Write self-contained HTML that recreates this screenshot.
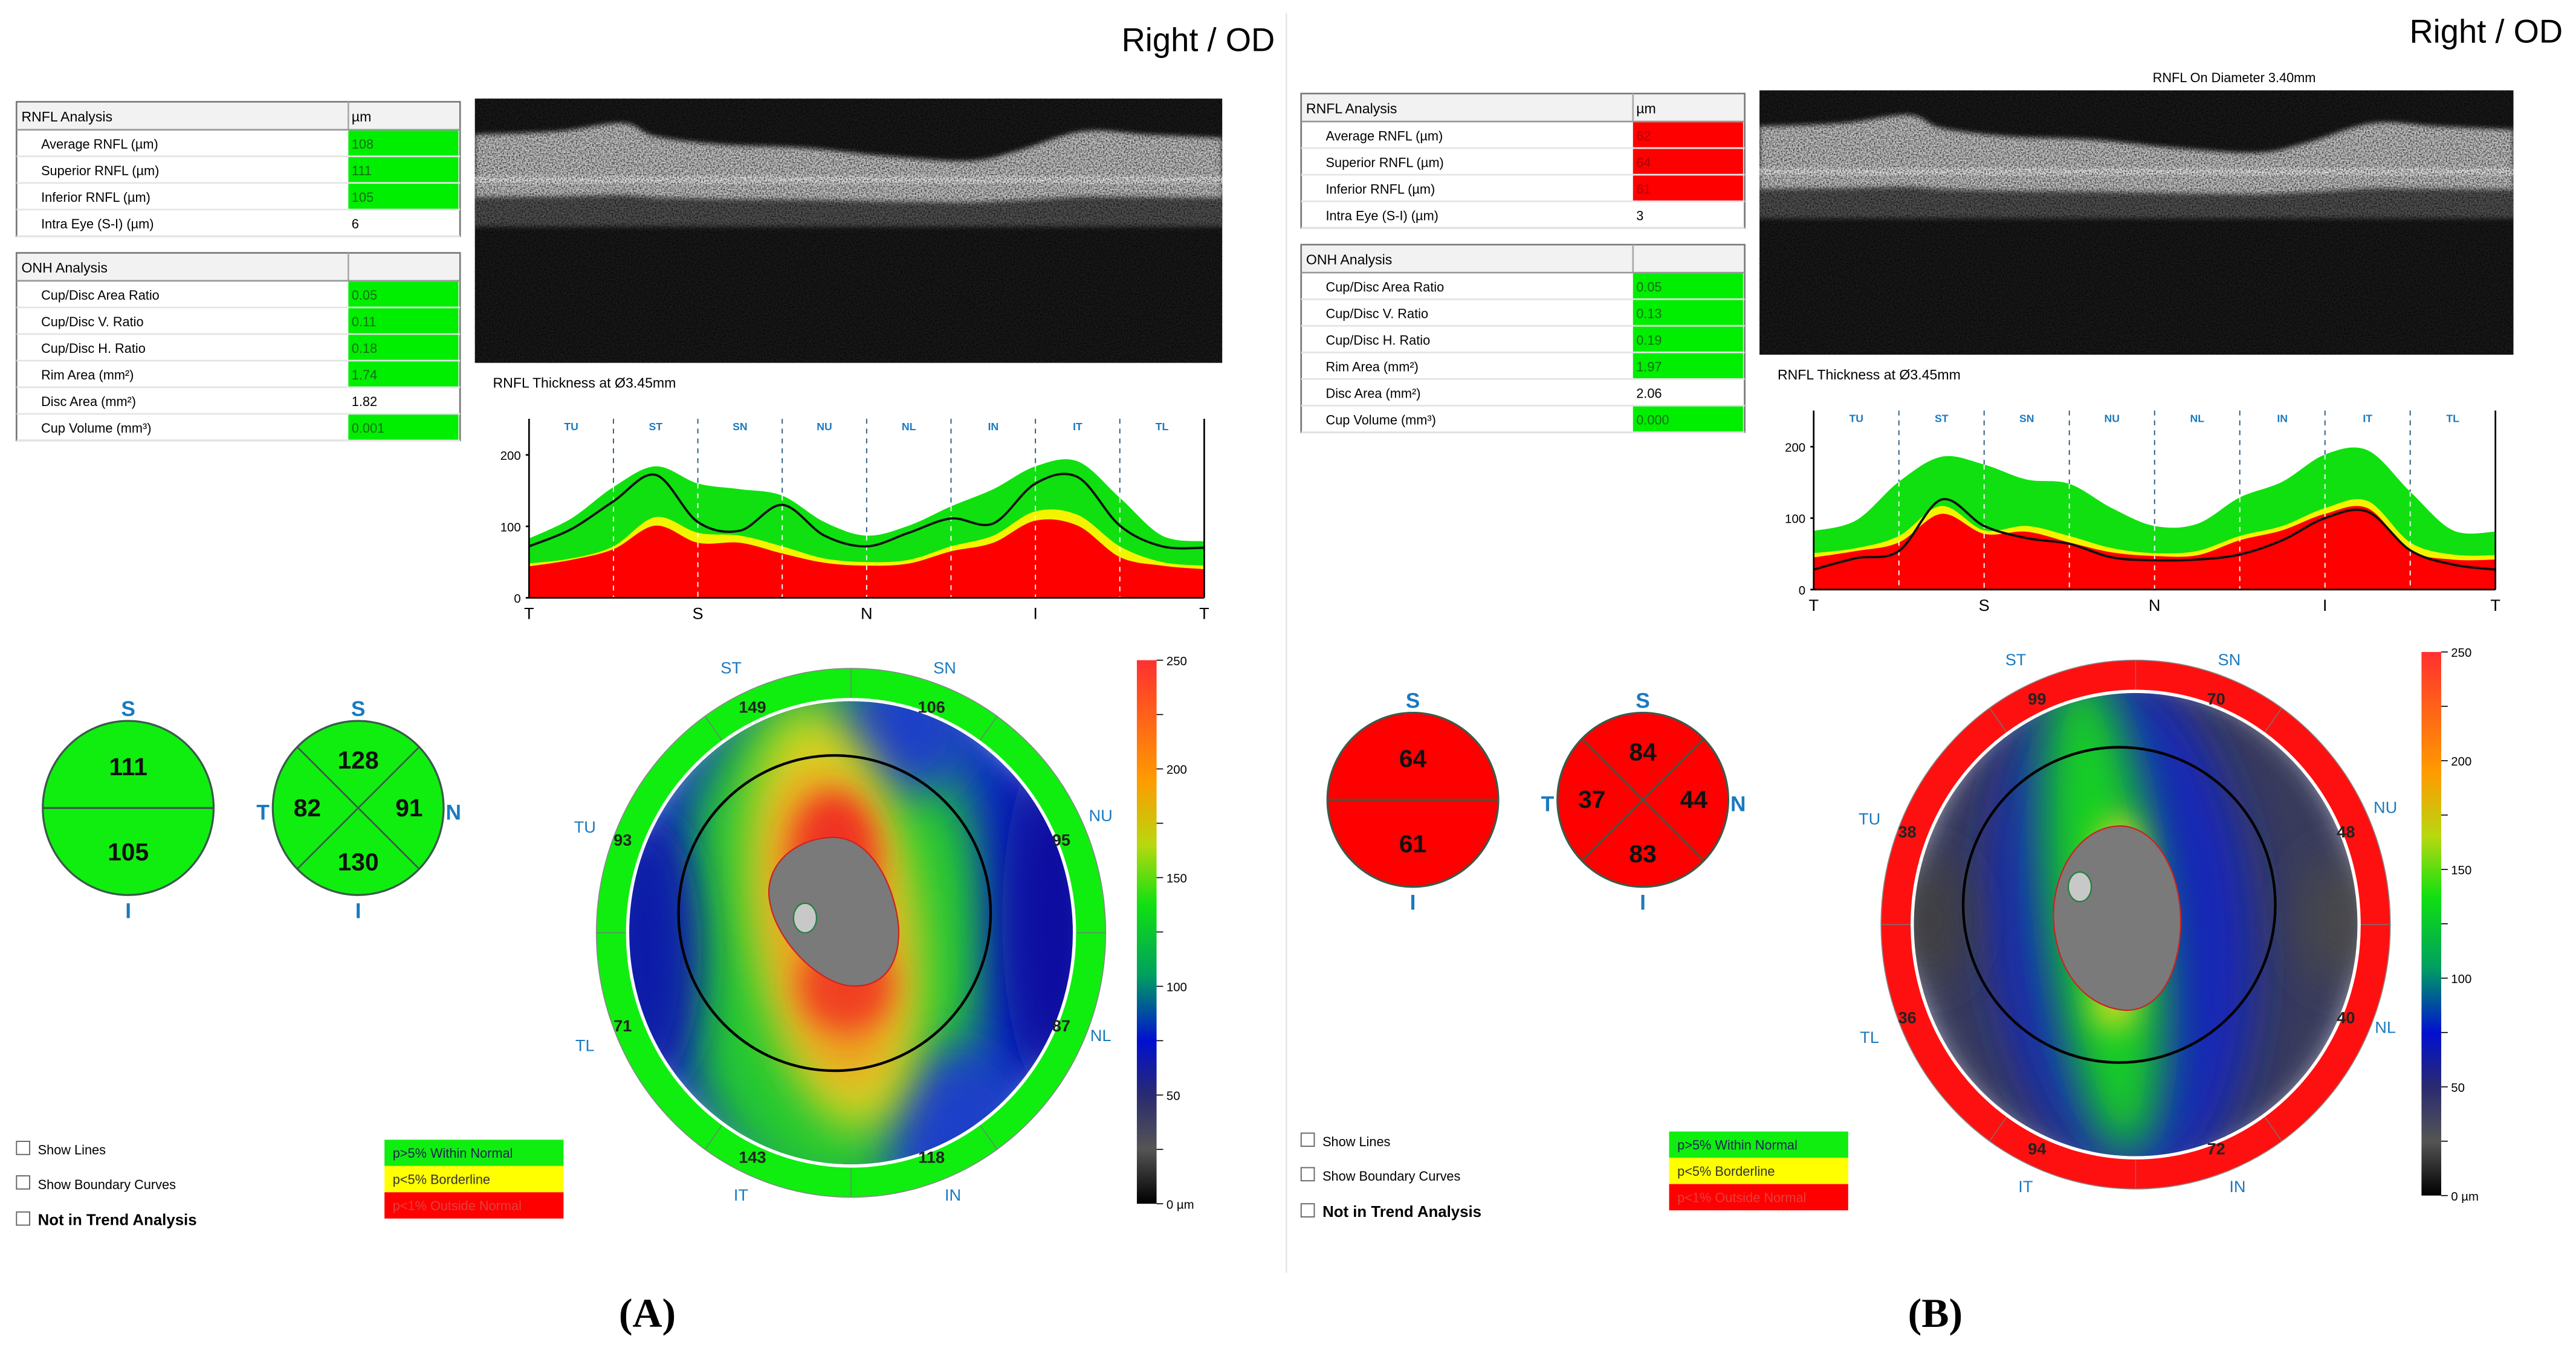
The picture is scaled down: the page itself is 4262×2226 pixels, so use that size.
<!DOCTYPE html>
<html><head><meta charset="utf-8"><style>
html,body{margin:0;padding:0;background:#fff}
svg{display:block}
text{font-family:"Liberation Sans",sans-serif}
</style></head><body>
<svg id="root" width="4262" height="2226" viewBox="0 0 1568 819" xmlns="http://www.w3.org/2000/svg">
<defs>
<filter id="noise" x="0" y="0" width="1" height="1">
<feTurbulence type="fractalNoise" baseFrequency="1.1" numOctaves="2" seed="3" result="t"/>
<feColorMatrix in="t" type="matrix" values="0 0 0 0 0  0 0 0 0 0  0 0 0 0 0  0 0 0 -1.6 1.0" result="n"/>
<feComposite in="n" in2="SourceGraphic" operator="in"/>
</filter>
<filter id="blur8" x="-100%" y="-100%" width="300%" height="300%"><feGaussianBlur stdDeviation="9"/></filter>
<filter id="blur14" x="-100%" y="-100%" width="300%" height="300%"><feGaussianBlur stdDeviation="14"/></filter>
<filter id="blur2" x="-20%" y="-50%" width="140%" height="200%"><feGaussianBlur stdDeviation="1.5"/></filter>
<linearGradient id="cbar" x1="0" y1="1" x2="0" y2="0">
<stop offset="0" stop-color="#000"/><stop offset="0.1" stop-color="#555"/><stop offset="0.2" stop-color="#2a2a70"/>
<stop offset="0.3" stop-color="#0010d0"/><stop offset="0.42" stop-color="#00a060"/><stop offset="0.55" stop-color="#10e010"/>
<stop offset="0.66" stop-color="#b8d810"/><stop offset="0.78" stop-color="#ff9a00"/><stop offset="1" stop-color="#ff3030"/>
</linearGradient>
</defs>
<line x1="783" y1="8" x2="783" y2="775" stroke="#e6e6e6" stroke-width="1"/>
<text x="394" y="808" font-size="25" font-weight="bold" text-anchor="middle" style="font-family:'Liberation Serif',serif">(A)</text>
<text x="1178" y="808" font-size="25" font-weight="bold" text-anchor="middle" style="font-family:'Liberation Serif',serif">(B)</text>
<text x="1360" y="50" font-size="8" text-anchor="middle">RNFL On Diameter 3.40mm</text>
</svg>
<script>
// ---- data ----
const sectorLabels = ["TU","ST","SN","NU","NL","IN","IT","TL"];
const bottomLabels = ["T","S","N","I","T"];
const yTicks = [0,100,200];
const rnflRows = ["Average RNFL (µm)","Superior RNFL (µm)","Inferior RNFL (µm)","Intra Eye (S-I) (µm)"];
const onhRows = ["Cup/Disc Area Ratio","Cup/Disc V. Ratio","Cup/Disc H. Ratio","Rim Area (mm²)","Disc Area (mm²)","Cup Volume (mm³)"];
const rnflValsA = ["108","111","105","6"];
const rnflValsB = ["62","64","61","3"];
const onhValsA = ["0.05","0.11","0.18","1.74","1.82","0.001"];
const onhValsB = ["0.05","0.13","0.19","1.97","2.06","0.000"];
const greenA = [83,111,155,184,160,152,143,106,87,101,128,152,184,191,140,87,79];
const yellowA = [48,55,72,113,91,87,72,55,50,53,72,87,121,116,72,50,45];
const redA = [44,53,68,101,77,77,62,49,45,48,65,77,108,101,57,45,40];
const lineA = [72,96,135,172,106,94,130,87,72,91,111,104,160,169,101,72,70];
const greenB = [82,97,151,186,175,154,148,114,89,92,129,151,189,195,137,83,81];
const yellowB = [51,58,75,117,83,89,75,58,51,54,75,89,114,124,66,49,48];
const redB = [45,54,66,106,78,81,66,52,47,48,69,83,106,114,55,42,42];
const lineB = [28,44,54,126,89,72,64,45,41,42,49,69,100,109,55,35,28];
const halvesA = ["111","105"], halvesB = ["64","61"];
const quadsA = ["128","91","130","82"], quadsB = ["84","44","83","37"]; // S,N,I,T
const clockA = ["149","106","95","87","118","143","71","93"]; // ST,SN,NU,NL,IN,IT,TL,TU
const clockB = ["99","70","48","40","72","94","36","38"];
const cbarTicks = [0,50,100,150,200,250];

const NS="http://www.w3.org/2000/svg";
const root=document.getElementById('root');
function el(tag,attrs,parent,txt){const e=document.createElementNS(NS,tag);for(const k in attrs)e.setAttribute(k,attrs[k]);if(txt!==undefined)e.textContent=txt;(parent||root).appendChild(e);return e;}

function smoothPath(pts){let d="M"+pts[0][0]+","+pts[0][1];for(let i=0;i<pts.length-1;i++){const p0=pts[i-1]||pts[i],p1=pts[i],p2=pts[i+1],p3=pts[i+2]||p2;
const c1=[p1[0]+(p2[0]-p0[0])/6,p1[1]+(p2[1]-p0[1])/6],c2=[p2[0]-(p3[0]-p1[0])/6,p2[1]-(p3[1]-p1[1])/6];
d+=" C"+c1[0]+","+c1[1]+" "+c2[0]+","+c2[1]+" "+p2[0]+","+p2[1];}return d;}

function panel(dx,dy,P){
  const g=el('g',{transform:`translate(${dx},${dy})`});
  
  
  const t=el('text',{x:P.odX,y:31,'font-size':20,'text-anchor':'end'},g,'Right / OD');
  
  
  function table(y0,title,unit,rows,vals,cls,name){
    const tg=el('g',{},g);
    
    
    const h=16.2, n=rows.length;
    el('rect',{x:10,y:y0,width:270,height:17+n*h,fill:'#fff',stroke:'#777','stroke-width':1},tg);
    el('rect',{x:10.5,y:y0+0.5,width:269,height:16.5,fill:'#f2f2f2'},tg);
    el('line',{x1:212,y1:y0,x2:212,y2:y0+17,stroke:'#aaa'},tg);
    el('line',{x1:10,y1:y0+17,x2:280,y2:y0+17,stroke:'#999'},tg);
    el('text',{x:13,y:y0+12,'font-size':8.5},tg,title);
    el('text',{x:214,y:y0+12,'font-size':8.5},tg,unit);
    rows.forEach((r,i)=>{const yy=y0+17+i*h;
      const c=cls[i];
      if(c)el('rect',{x:212,y:yy+0.5,width:67,height:h-1,fill:c},tg);
      el('line',{x1:10,y1:yy+h,x2:280,y2:yy+h,stroke:'#e4e4e4'},tg);
      el('text',{x:25,y:yy+11.5,'font-size':8},tg,r);
      el('text',{x:214,y:yy+11.5,'font-size':8,fill:c&&c!=='#00ee00'?'#a00':(c?'#1a6a1a':'#000')},tg,vals[i]);
    });
  }
  table(62,'RNFL Analysis','µm',rnflRows,P.rnfl,P.rnflCls,'rnfl-table');
  table(154,'ONH Analysis','',onhRows,P.onh,P.onhCls,'onh-table');
  // OCT image
  const og=el('g',{},g);
  
  
  const ox=289,ow=P.octW,oy=60,oh=161;
  const ocp=el('clipPath',{id:'oclip'+P.id},og);el('rect',{x:ox,y:oy,width:ow,height:oh},ocp);
  const oin=el('g',{'clip-path':`url(#oclip${P.id})`},og);
  el('rect',{x:ox,y:oy,width:ow,height:oh,fill:'#181818'},oin);
  const f=ow/455;
  const top=[[0,82],[50,80],[90,75],[110,83],[150,88],[200,90],[250,95],[300,98],[330,92],[370,80],[410,82],[455,84]].map(p=>[ox+p[0]*f,p[1]]);
  let d=smoothPath(top);
  const bot=top.slice().reverse().map(p=>[p[0],120+(p[1]-82)*0.2]);
  d+=" L"+bot.map(p=>p.join(",")).join(" L")+"Z";
  el('rect',{x:ox-10,y:114,width:ow+20,height:24,fill:'#505050',filter:'url(#blur2)'},oin);
  el('path',{d:d,fill:'#c0c0c0',filter:'url(#blur2)'},oin);
  el('rect',{x:ox-10,y:108,width:ow+20,height:3,fill:'#eeeeee',filter:'url(#blur2)'},oin);
  el('rect',{x:ox,y:oy,width:ow,height:oh,fill:'#000',filter:'url(#noise)'},oin);
  const st=el('text',{x:300,y:236,'font-size':8.5},g,'RNFL Thickness at Ø3.45mm');
  
  
  // chart
  const cg=el('g',{},g);
  
  
  const x0=322,x1=x0+P.chartW,yz=364,ytop=255;
  const sx=i=>x0+i*(x1-x0)/16, sy=v=>yz-v*(yz-277)/200;
  for(let k=1;k<8;k++){const xx=x0+k*(x1-x0)/8;el('line',{x1:xx,y1:ytop,x2:xx,y2:yz,stroke:'#2a5a7a','stroke-width':0.7,'stroke-dasharray':'3,3'},cg);}
  function area(arr,col,name){const pts=arr.map((v,i)=>[sx(i),sy(v)]);const p=el('path',{d:smoothPath(pts)+` L${x1},${yz} L${x0},${yz}Z`,fill:col},cg);
    
    }
  area(P.green,'#10e010',P.id+'-normal-band');
  area(P.yellow,'#f4f400',P.id+'-borderline-band');
  area(P.red,'#ff0000',P.id+'-outside-normal-band');
  for(let k=1;k<8;k++){const xx=x0+k*(x1-x0)/8;el('line',{x1:xx,y1:sy(P.green[2*k]),x2:xx,y2:yz,stroke:'#fff','stroke-width':0.7,'stroke-dasharray':'3,3'},cg);}
  const ln=el('path',{d:smoothPath(P.line.map((v,i)=>[sx(i),sy(v)])),fill:'none',stroke:'#111','stroke-width':1.4},cg);
  
  
  el('line',{x1:x0,y1:ytop,x2:x0,y2:yz,stroke:'#000','stroke-width':1},cg);
  el('line',{x1:x1,y1:ytop,x2:x1,y2:yz,stroke:'#000','stroke-width':1},cg);
  el('line',{x1:x0,y1:yz,x2:x1,y2:yz,stroke:'#000','stroke-width':1},cg);
  yTicks.forEach(v=>{el('line',{x1:x0-2,y1:sy(v),x2:x0,y2:sy(v),stroke:'#000'},cg);el('text',{x:x0-5,y:sy(v)+3,'font-size':7.5,'text-anchor':'end'},cg,String(v));});
  sectorLabels.forEach((s,k)=>el('text',{x:x0+(k+0.5)*(x1-x0)/8,y:ytop+7,'font-size':6.5,fill:'#1a7ac0','text-anchor':'middle','font-weight':'bold'},cg,s));
  bottomLabels.forEach((s,k)=>el('text',{x:x0+k*(x1-x0)/4,y:yz+13,'font-size':10,'text-anchor':'middle'},cg,s));
  // circles
  const col=P.circleCol, stroke='#3a5a4a';
  const c1=el('g',{},g);
  
  
  el('ellipse',{cx:78,cy:492,rx:52,ry:53,fill:col,stroke:stroke,'stroke-width':1.2},c1);
  el('line',{x1:26,y1:492,x2:130,y2:492,stroke:stroke,'stroke-width':1.2},c1);
  el('text',{x:78,y:472,'font-size':15,'text-anchor':'middle','font-weight':'bold',fill:'#111'},c1,P.halves[0]);
  el('text',{x:78,y:524,'font-size':15,'text-anchor':'middle','font-weight':'bold',fill:'#111'},c1,P.halves[1]);
  el('text',{x:78,y:436,'font-size':13,'text-anchor':'middle','font-weight':'bold',fill:'#1a7ac0'},c1,'S');
  el('text',{x:78,y:559,'font-size':13,'text-anchor':'middle','font-weight':'bold',fill:'#1a7ac0'},c1,'I');
  const c2=el('g',{},g);
  
  
  const cx=218,cy=492;
  el('ellipse',{cx:cx,cy:cy,rx:52,ry:53,fill:col,stroke:stroke,'stroke-width':1.2},c2);
  el('line',{x1:cx-37,y1:cy-37,x2:cx+37,y2:cy+37,stroke:stroke,'stroke-width':1},c2);
  el('line',{x1:cx+37,y1:cy-37,x2:cx-37,y2:cy+37,stroke:stroke,'stroke-width':1},c2);
  [[0,-26],[31,3],[0,36],[-31,3]].forEach((o,i)=>el('text',{x:cx+o[0],y:cy+o[1]+2,'font-size':15,'text-anchor':'middle','font-weight':'bold',fill:'#111'},c2,P.quads[i]));
  [['S',0,-56],['N',58,7],['I',0,67],['T',-58,7]].forEach(a=>el('text',{x:cx+a[1],y:cy+a[2],'font-size':13,'text-anchor':'middle','font-weight':'bold',fill:'#1a7ac0'},c2,a[0]));
  // map
  const mg=el('g',{},g);
  
  
  const mx=518,my=568;
  el('ellipse',{cx:mx,cy:my,rx:155,ry:161,fill:P.ringCol,stroke:'#888','stroke-width':0.6},mg);
  el('ellipse',{cx:mx,cy:my,rx:137,ry:143,fill:'#fff'},mg);
  const cid='clip'+P.id;
  const cp=el('clipPath',{id:cid},mg);el('ellipse',{cx:mx,cy:my,rx:135,ry:141},cp);
  const inner=el('g',{'clip-path':`url(#${cid})`},mg);
  P.blobs.forEach(b=>el('ellipse',{cx:b[0],cy:b[1],rx:b[2],ry:b[3],fill:b[4],filter:'url(#'+(b[5]||'blur8')+')',transform:`rotate(${b[6]||0} ${b[0]} ${b[1]})`},inner));
  el('ellipse',{cx:mx-10,cy:my-12,rx:95,ry:96,fill:'none',stroke:'#000','stroke-width':1.6},mg);
  el('path',{d:P.disc,fill:'#7a7a7a',stroke:'#d02020','stroke-width':0.8},mg);
  el('ellipse',{cx:P.cup[0],cy:P.cup[1],rx:7,ry:9,fill:'#c8c8c8',stroke:'#208040','stroke-width':0.8},mg);
  [[-90],[90],[0],[180],[-55],[-125],[55],[125]].forEach(a=>{const r=a[0]*Math.PI/180;el('line',{x1:mx+137*Math.cos(r),y1:my+143*Math.sin(r),x2:mx+155*Math.cos(r),y2:my+161*Math.sin(r),stroke:'#777','stroke-width':0.5},mg);});
  const clockPos=[[458,434],[567,434],[646,515],[646,628],[567,708],[458,708],[379,628],[379,515]];
  clockPos.forEach((p,i)=>el('text',{x:p[0],y:p[1],'font-size':10,'text-anchor':'middle','font-weight':'bold',fill:'#222'},mg,P.clock[i]));
  const clockLab=[['ST',445,410],['SN',575,410],['NU',670,500],['NL',670,634],['IN',580,731],['IT',451,731],['TL',356,640],['TU',356,507]];
  clockLab.forEach(a=>el('text',{x:a[1],y:a[2],'font-size':10,'text-anchor':'middle',fill:'#1a7ac0'},mg,a[0]));
  // colorbar
  const cb=el('g',{},g);
  
  
  el('rect',{x:692,y:402,width:12,height:331,fill:'url(#cbar)'},cb);
  const cby=v=>733-v*331/250;
  for(let v=0;v<=250;v+=25)el('line',{x1:704,y1:cby(v),x2:708,y2:cby(v),stroke:'#000','stroke-width':0.6},cb);
  cbarTicks.forEach(v=>el('text',{x:710,y:cby(v)+3,'font-size':7.5},cb,v===0?'0 µm':String(v)));
  // checkboxes
  [['Show Lines',702,8,'normal','show-lines-checkbox'],['Show Boundary Curves',723,8,'normal','show-boundary-curves-checkbox'],['Not in Trend Analysis',745,9.5,'bold','not-in-trend-checkbox']].forEach(c=>{
    const cgp=el('g',{},g);
    
    
    el('rect',{x:10,y:c[1]-7,width:8,height:8,fill:'#fff',stroke:'#666','stroke-width':0.7},cgp);
    el('text',{x:23,y:c[1]+1,'font-size':c[2],'font-weight':c[3]},cgp,c[0]);
  });
  // legend
  const lg=el('g',{},g);
  
  
  [['#10ee10','p>5% Within Normal','#225'],['#ffff00','p<5% Borderline','#333'],['#ff0000','p<1% Outside Normal','#e04040']].forEach((r,i)=>{
    el('rect',{x:234,y:694+i*16,width:109,height:16,fill:r[0]},lg);
    el('text',{x:239,y:705+i*16,'font-size':8,fill:r[2]},lg,r[1]);
  });
}
panel(0,0,{id:'a',odX:776,rnfl:rnflValsA,onh:onhValsA,rnflCls:['#00ee00','#00ee00','#00ee00',null],onhCls:['#00ee00','#00ee00','#00ee00','#00ee00',null,'#00ee00'],
  octW:455,chartW:411,green:greenA,yellow:yellowA,red:redA,line:lineA,circleCol:'#10ee10',halves:halvesA,quads:quadsA,clock:clockA,ringCol:'#10ee10',
  blobs:[[518,568,140,150,'#1030c0','blur8'],[505,570,95,160,'#20c830','blur14'],[392,580,35,85,'#0a1aa8','blur14'],[642,560,32,110,'#0a10a0','blur14'],
   [550,445,42,40,'#1a40c8','blur14'],[582,688,42,50,'#1a40c8','blur14'],[508,560,50,130,'#d8d420','blur14',-8],[508,565,36,95,'#f09a20','blur14',-8],
   [508,520,26,38,'#f03020','blur8'],[515,600,28,28,'#f04020','blur8']],
  disc:'M505,510 C530,508 545,540 547,565 C548,590 535,603 515,600 C495,596 470,570 468,545 C467,525 485,511 505,510Z',cup:[490,559]});
panel(782,-5,{id:'b',odX:778,rnfl:rnflValsB,onh:onhValsB,rnflCls:['#ff0000','#ff0000','#ff0000',null],onhCls:['#00ee00','#00ee00','#00ee00','#00ee00',null,'#00ee00'],
  octW:459,chartW:415,green:greenB,yellow:yellowB,red:redB,line:lineB,circleCol:'#ff0000',halves:halvesB,quads:quadsB,clock:clockB,ringCol:'#ff1010',
  blobs:[[518,568,140,150,'#383a5c','blur8'],[510,570,80,160,'#1228b8','blur14',-5],[392,565,22,38,'#404040','blur14'],[642,565,22,38,'#484848','blur14'],
   [498,560,34,150,'#12d020','blur14',-6],[508,530,14,28,'#d8d820','blur8'],[505,615,14,18,'#c8d820','blur8']],
  disc:'M510,508 C535,510 548,545 545,575 C542,605 528,622 510,620 C490,618 470,600 468,565 C467,535 485,507 510,508Z',cup:[484,545]});
</script>
</body></html>
